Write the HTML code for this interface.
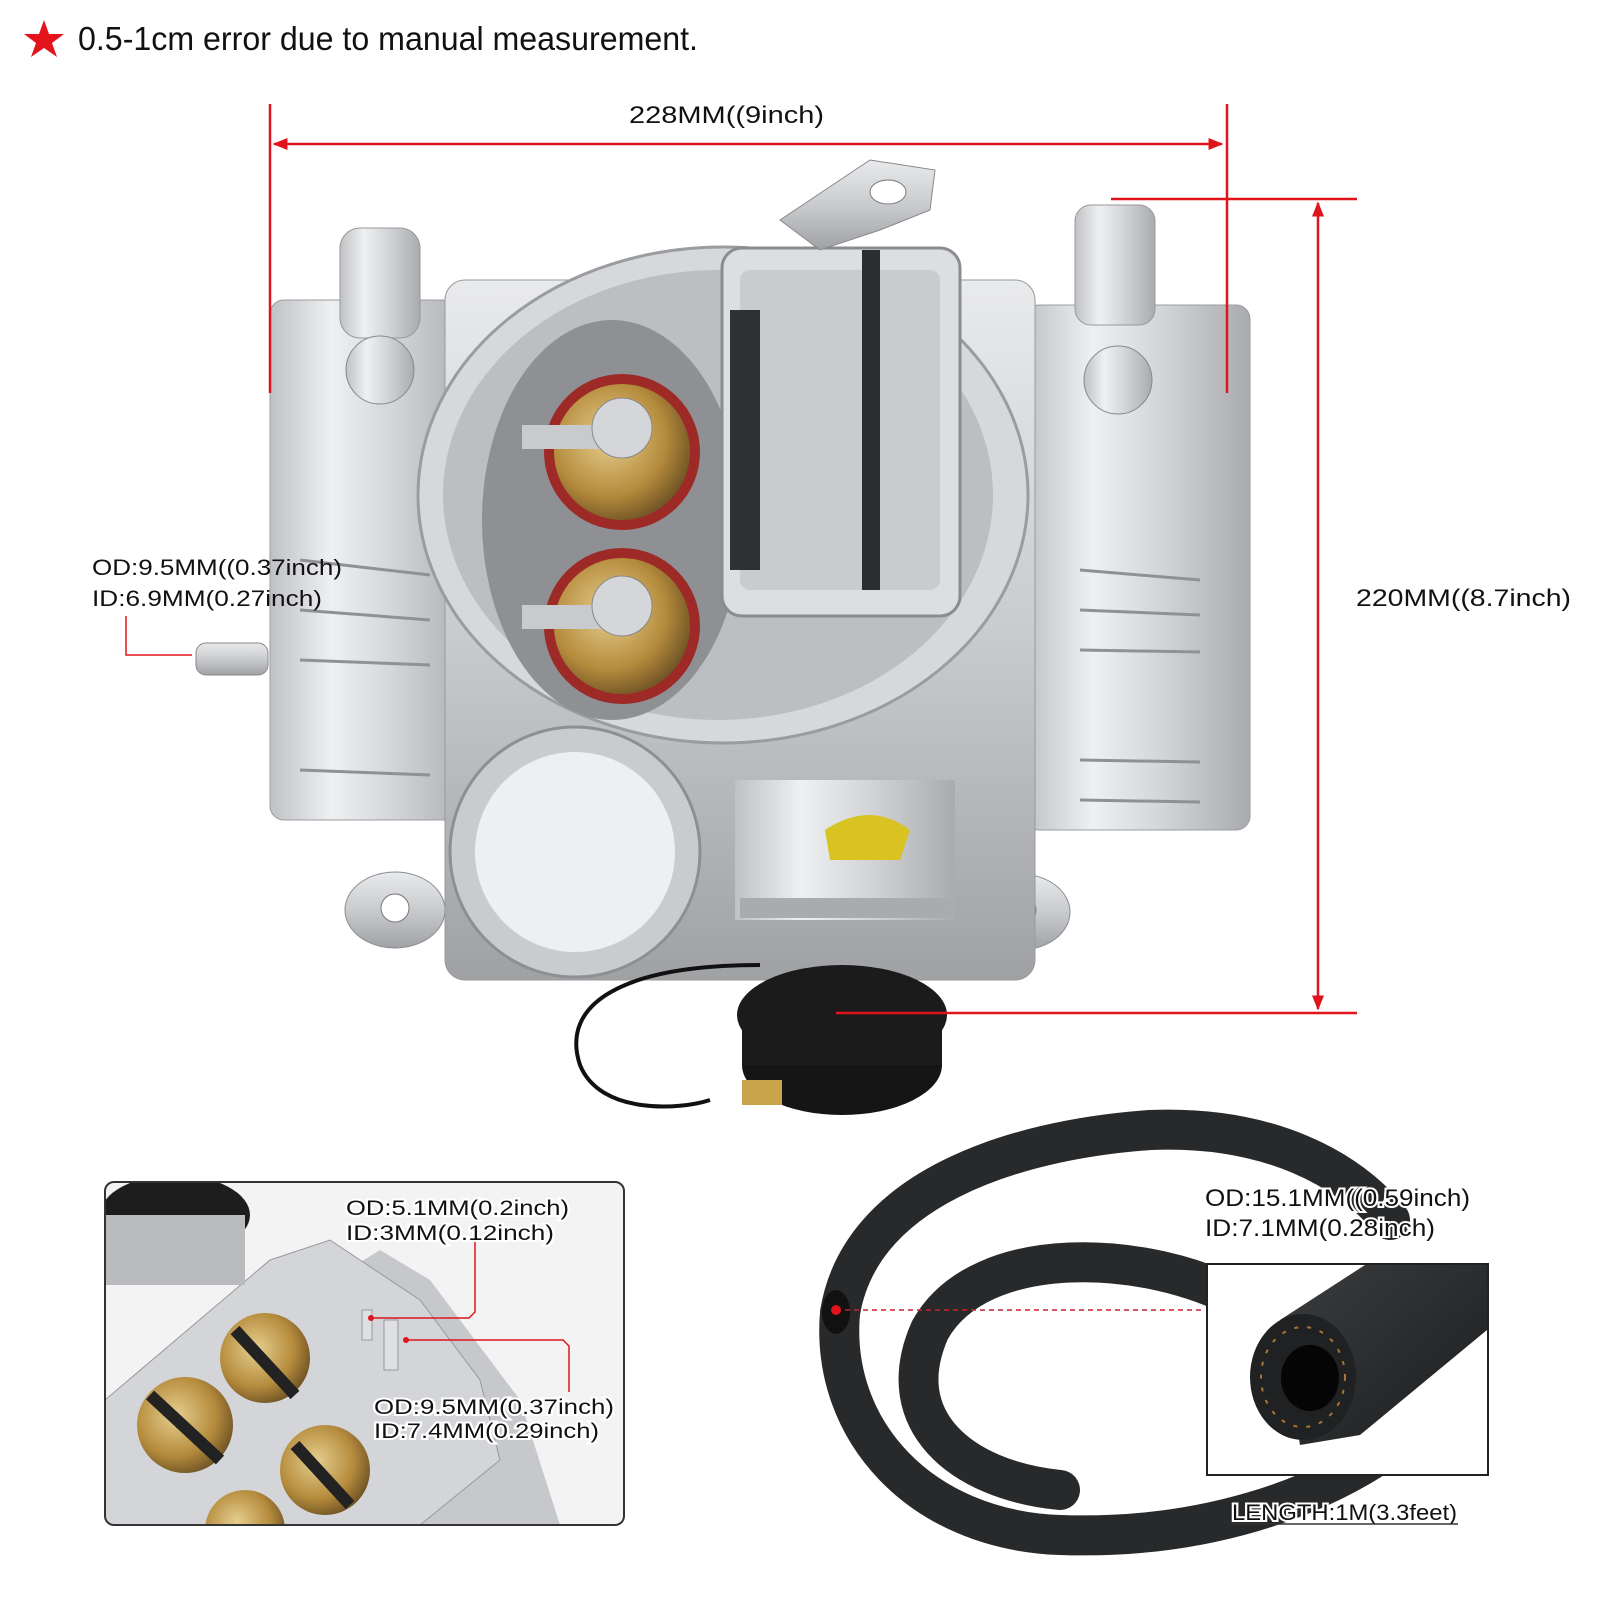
<!DOCTYPE html>
<html><head><meta charset="utf-8">
<style>
html,body{margin:0;padding:0;background:#fff;}
svg{display:block;}
text{font-family:"Liberation Sans",sans-serif;fill:#111;}
</style></head>
<body>
<svg width="1600" height="1600" viewBox="0 0 1600 1600" xmlns="http://www.w3.org/2000/svg">
<defs>
<linearGradient id="met" x1="0" y1="0" x2="1" y2="0">
<stop offset="0" stop-color="#bfc1c4"/><stop offset="0.3" stop-color="#eef0f2"/><stop offset="0.6" stop-color="#d3d5d8"/><stop offset="1" stop-color="#a9abae"/>
</linearGradient>
<linearGradient id="met2" x1="0" y1="0" x2="0" y2="1">
<stop offset="0" stop-color="#e9eaec"/><stop offset="0.5" stop-color="#c9cbce"/><stop offset="1" stop-color="#9fa1a4"/>
</linearGradient>
<radialGradient id="brass" cx="0.4" cy="0.4" r="0.7">
<stop offset="0" stop-color="#e6cf8f"/><stop offset="0.6" stop-color="#b58b3c"/><stop offset="1" stop-color="#5e4520"/>
</radialGradient>
<linearGradient id="tube" x1="0" y1="0" x2="1" y2="1">
<stop offset="0" stop-color="#3a3c3e"/><stop offset="1" stop-color="#1c1d1e"/>
</linearGradient>
<marker id="ah" viewBox="0 0 10 10" refX="9" refY="5" markerWidth="6" markerHeight="6" orient="auto-start-reverse">
<path d="M0,1 L10,5 L0,9 z" fill="#e0141c"/>
</marker>
</defs>

<polygon points="44,20 49,34 64,34 52,43 57,57 44,48 31,57 36,43 24,34 39,34" fill="#e3141b"/>
<text x="78" y="50" font-size="33" textLength="620" lengthAdjust="spacingAndGlyphs">0.5-1cm error due to manual measurement.</text>

<g>
<ellipse cx="395" cy="910" rx="50" ry="38" fill="url(#met2)" stroke="#8b8d90"/>
<circle cx="395" cy="908" r="14" fill="#fff" stroke="#777"/>
<ellipse cx="1020" cy="912" rx="50" ry="38" fill="url(#met2)" stroke="#8b8d90"/>
<circle cx="1022" cy="910" r="14" fill="#fff" stroke="#777"/>
<rect x="270" y="300" width="205" height="520" rx="14" fill="url(#met)" stroke="#9a9c9f"/>
<path d="M300,560 L430,575 M300,610 L430,620 M300,660 L430,665 M300,770 L430,775" stroke="#8f9195" stroke-width="3"/>
<rect x="1025" y="305" width="225" height="525" rx="14" fill="url(#met)" stroke="#9a9c9f"/>
<path d="M1080,570 L1200,580 M1080,610 L1200,615 M1080,650 L1200,652 M1080,760 L1200,762 M1080,800 L1200,802" stroke="#8f9195" stroke-width="3"/>
<rect x="1020" y="320" width="8" height="500" fill="#7a2a24"/>
<rect x="468" y="300" width="6" height="500" fill="#7a2a24"/>
<rect x="445" y="280" width="590" height="700" rx="20" fill="url(#met2)" stroke="#999"/>
<rect x="340" y="228" width="80" height="110" rx="20" fill="url(#met)" stroke="#999"/>
<circle cx="380" cy="370" r="34" fill="url(#met)" stroke="#888"/>
<rect x="1075" y="205" width="80" height="120" rx="16" fill="url(#met)" stroke="#999"/>
<circle cx="1118" cy="380" r="34" fill="url(#met)" stroke="#888"/>
<ellipse cx="723" cy="495" rx="305" ry="248" fill="#d6d8db" stroke="#9a9c9f" stroke-width="3"/>
<ellipse cx="718" cy="495" rx="275" ry="225" fill="#bcbec1"/>
<ellipse cx="612" cy="520" rx="130" ry="200" fill="#8e9094"/>
<circle cx="622" cy="452" r="78" fill="#9d2a26"/>
<circle cx="622" cy="452" r="68" fill="url(#brass)"/>
<circle cx="622" cy="626" r="78" fill="#9d2a26"/>
<circle cx="622" cy="626" r="68" fill="url(#brass)"/>
<rect x="522" y="425" width="110" height="24" fill="#c8cacd"/>
<circle cx="622" cy="428" r="30" fill="#d4d6d9" stroke="#888"/>
<rect x="522" y="605" width="110" height="24" fill="#c8cacd"/>
<circle cx="622" cy="606" r="30" fill="#d4d6d9" stroke="#888"/>
<rect x="722" y="248" width="238" height="368" rx="20" fill="#dcdee1" stroke="#8a8c8f" stroke-width="3"/>
<rect x="740" y="270" width="200" height="320" rx="10" fill="#c9cbce"/>
<rect x="730" y="310" width="30" height="260" fill="#2f3032"/>
<rect x="862" y="250" width="18" height="340" fill="#2c2d2f"/>
<path d="M780,220 L870,160 L935,170 L930,210 L880,230 L820,250 Z" fill="url(#met2)" stroke="#888"/>
<ellipse cx="888" cy="192" rx="18" ry="12" fill="#fff" stroke="#777"/>
<circle cx="575" cy="852" r="125" fill="#c9cbce" stroke="#8d8f92" stroke-width="3"/>
<circle cx="575" cy="852" r="100" fill="#eeeff1"/>
<rect x="735" y="780" width="220" height="140" fill="url(#met)"/>
<path d="M825,830 Q870,800 910,830 L900,860 L830,860 Z" fill="#d8c322"/>
<rect x="740" y="898" width="210" height="20" fill="#a9abae"/>
<ellipse cx="842" cy="1015" rx="105" ry="50" fill="#1b1b1b"/>
<ellipse cx="842" cy="1065" rx="100" ry="50" fill="#151515"/>
<rect x="742" y="1015" width="200" height="50" fill="#1b1b1b"/>
<rect x="742" y="1080" width="40" height="25" fill="#c9a44a"/>
<path d="M760,965 C620,965 560,1005 580,1065 C600,1115 680,1110 710,1100" stroke="#111" stroke-width="4" fill="none"/>
<rect x="196" y="643" width="72" height="32" rx="10" fill="url(#met2)" stroke="#888"/>
</g>

<g stroke="#e0141c" stroke-width="2.5" fill="none">
<line x1="270" y1="104" x2="270" y2="393"/>
<line x1="1227" y1="104" x2="1227" y2="393"/>
<line x1="274" y1="144" x2="1222" y2="144" marker-start="url(#ah)" marker-end="url(#ah)"/>
<line x1="1111" y1="199" x2="1357" y2="199"/>
<line x1="836" y1="1013" x2="1357" y2="1013"/>
<line x1="1318" y1="203" x2="1318" y2="1009" marker-start="url(#ah)" marker-end="url(#ah)"/>
<polyline points="126,616 126,655 192,655" stroke-width="1.5"/>
</g>
<text x="629" y="123" font-size="24" textLength="195" lengthAdjust="spacingAndGlyphs">228MM((9inch)</text>
<text x="1356" y="606" font-size="24" textLength="215" lengthAdjust="spacingAndGlyphs">220MM((8.7inch)</text>
<text x="92" y="575" font-size="22" textLength="250" lengthAdjust="spacingAndGlyphs">OD:9.5MM((0.37inch)</text>
<text x="92" y="606" font-size="22" textLength="230" lengthAdjust="spacingAndGlyphs">ID:6.9MM(0.27inch)</text>

<g>
<clipPath id="ib"><rect x="105" y="1182" width="519" height="343" rx="9"/></clipPath>
<g clip-path="url(#ib)">
<rect x="105" y="1182" width="519" height="343" fill="#f3f3f4"/>
<path d="M105,1420 L380,1250 L430,1280 L520,1400 L560,1525 L105,1525 Z" fill="#c6c8cb"/>
<path d="M270,1260 L330,1240 L420,1300 L480,1380 L500,1460 L420,1525 L105,1525 L105,1400 Z" fill="#d3d5d8" stroke="#999"/>
<ellipse cx="175" cy="1215" rx="75" ry="40" fill="#1d1d1d"/>
<rect x="105" y="1215" width="140" height="70" fill="#b9bbbe"/>
<circle cx="185" cy="1425" r="48" fill="url(#brass)"/>
<circle cx="265" cy="1358" r="45" fill="url(#brass)"/>
<circle cx="325" cy="1470" r="45" fill="url(#brass)"/>
<circle cx="245" cy="1530" r="40" fill="url(#brass)"/>
<path d="M150,1395 L220,1460 M235,1330 L295,1395 M295,1445 L350,1505" stroke="#222" stroke-width="12"/>
<rect x="384" y="1320" width="14" height="50" fill="#dfe0e2" stroke="#999"/>
<rect x="362" y="1310" width="10" height="30" fill="#dfe0e2" stroke="#999"/>
</g>
<rect x="105" y="1182" width="519" height="343" rx="9" fill="none" stroke="#333" stroke-width="2"/>
<g stroke="#e0141c" stroke-width="1.5" fill="none">
<polyline points="475,1240 475,1312 469,1318 371,1318"/>
<polyline points="406,1340 563,1340 569,1346 569,1392"/>
</g>
<circle cx="371" cy="1318" r="3" fill="#e0141c"/>
<circle cx="406" cy="1340" r="3" fill="#e0141c"/>
<g stroke="#fff" stroke-width="4" paint-order="stroke" font-size="21">
<text x="346" y="1215" textLength="223" lengthAdjust="spacingAndGlyphs">OD:5.1MM(0.2inch)</text>
<text x="346" y="1240" textLength="208" lengthAdjust="spacingAndGlyphs">ID:3MM(0.12inch)</text>
<text x="374" y="1414" textLength="240" lengthAdjust="spacingAndGlyphs">OD:9.5MM(0.37inch)</text>
<text x="374" y="1438" textLength="225" lengthAdjust="spacingAndGlyphs">ID:7.4MM(0.29inch)</text>
</g>
</g>

<g fill="none" stroke="#28292a" stroke-width="40" stroke-linecap="round">
<path d="M1240,1300 C1150,1250 980,1240 930,1330 C890,1420 960,1480 1060,1490"/>
<path d="M840,1313 C860,1190 1010,1140 1150,1130 C1270,1125 1350,1170 1390,1220"/>
<path d="M840,1313 C830,1430 920,1530 1060,1535 C1200,1540 1320,1500 1400,1440"/>
</g>
<ellipse cx="836" cy="1312" rx="14" ry="22" fill="#111"/>
<line x1="836" y1="1310" x2="1205" y2="1310" stroke="#c9222a" stroke-width="1.5" stroke-dasharray="5,4"/>
<circle cx="836" cy="1310" r="5" fill="#e0141c"/>

<rect x="1207" y="1264" width="281" height="211" fill="#fff" stroke="#222" stroke-width="2"/>
<path d="M1280,1320 L1365,1265 L1487,1265 L1487,1330 L1360,1435 L1300,1445 Z" fill="url(#tube)"/>
<ellipse cx="1303" cy="1377" rx="53" ry="63" fill="#202122"/>
<ellipse cx="1303" cy="1377" rx="42" ry="50" fill="none" stroke="#a77535" stroke-width="2" stroke-dasharray="4,9"/>
<ellipse cx="1310" cy="1378" rx="29" ry="33" fill="#050505"/>

<g stroke="#fff" stroke-width="4" paint-order="stroke" font-size="24">
<text x="1205" y="1206" textLength="265" lengthAdjust="spacingAndGlyphs">OD:15.1MM((0.59inch)</text>
<text x="1205" y="1236" textLength="230" lengthAdjust="spacingAndGlyphs">ID:7.1MM(0.28inch)</text>
</g>
<g stroke="#fff" stroke-width="4" paint-order="stroke">
<text x="1232" y="1520" font-size="22" textLength="225" lengthAdjust="spacingAndGlyphs">LENGTH:1M(3.3feet)</text>
</g>
<line x1="1231" y1="1524" x2="1458" y2="1524" stroke="#333" stroke-width="1.5"/>
</svg>
</body></html>
